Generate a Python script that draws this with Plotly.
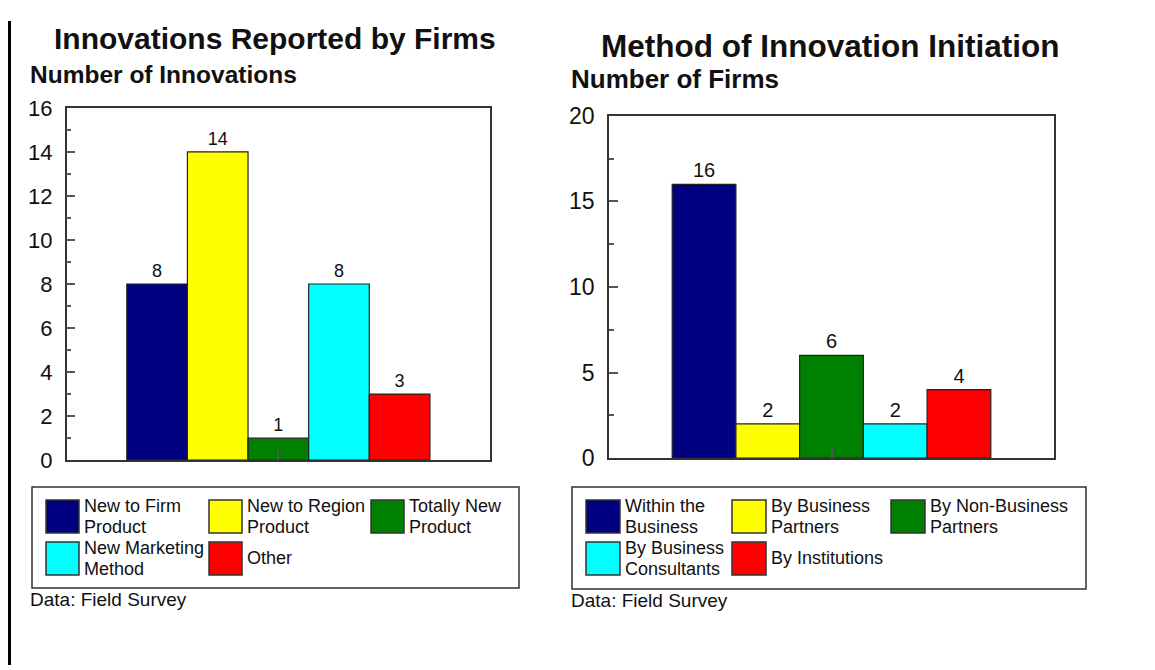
import plotly.graph_objects as go

# ---------------- data ----------------
left_title = "Innovations Reported by Firms"
left_ylabel = "Number of Innovations"
left_categories = ["New to Firm Product", "New to Region Product", "Totally New Product",
                   "New Marketing Method", "Other"]
left_legend_lines = [["New to Firm", "Product"], ["New to Region", "Product"],
                     ["Totally New", "Product"], ["New Marketing", "Method"], ["Other"]]
left_values = [8, 14, 1, 8, 3]
left_ticks = [0, 2, 4, 6, 8, 10, 12, 14, 16]

right_title = "Method of Innovation Initiation"
right_ylabel = "Number of Firms"
right_categories = ["Within the Business", "By Business Partners", "By Non-Business Partners",
                    "By Business Consultants", "By Institutions"]
right_legend_lines = [["Within the", "Business"], ["By Business", "Partners"],
                      ["By Non-Business", "Partners"], ["By Business", "Consultants"],
                      ["By Institutions"]]
right_values = [16, 2, 6, 2, 4]
right_ticks = [0, 5, 10, 15, 20]

source_note = "Data: Field Survey"
colors = ["#000080", "#FFFF00", "#008000", "#00FFFF", "#FF0000"]

# ---------------- layout helpers ----------------
W, H = 1155, 670
X_OFF, Y_OFF, Y_SCALE = 8, 20, 0.963
FONT = "Arial, Liberation Sans, sans-serif"


def px(x):
    return (x - X_OFF) / W


def py(y):
    return min(1.0, max(0.0, 1 - ((y - Y_OFF) / Y_SCALE) / H))


fig = go.Figure()

for i, (cat, val) in enumerate(zip(left_categories, left_values)):
    fig.add_trace(go.Bar(
        x=["A"], y=[val], name=cat, marker=dict(color=colors[i], line=dict(color="#222222", width=1.2)),
        text=[val], texttemplate="%{y}", textposition="outside", cliponaxis=False,
        textfont=dict(size=18, color="#111111", family=FONT),
        xaxis="x", yaxis="y", offsetgroup=str(i), showlegend=False))

for i, (cat, val) in enumerate(zip(right_categories, right_values)):
    fig.add_trace(go.Bar(
        x=["B"], y=[val], name=cat, marker=dict(color=colors[i], line=dict(color="#222222", width=1.2)),
        text=[val], texttemplate="%{y}", textposition="outside", cliponaxis=False,
        textfont=dict(size=20, color="#111111", family=FONT),
        xaxis="x2", yaxis="y2", offsetgroup=str(i), showlegend=False))

axis_common = dict(showline=True, mirror=True, linecolor="#333333", linewidth=1.5,
                   showgrid=False, zeroline=False, ticks="inside", tickcolor="#555555",
                   tickwidth=1.5, fixedrange=True)

fig.update_layout(
    width=W, height=H, margin=dict(l=0, r=0, t=0, b=0),
    paper_bgcolor="white", plot_bgcolor="white",
    barmode="group", bargap=0.284, bargroupgap=0,
    font=dict(family=FONT, color="#111111"),
    xaxis=dict(domain=[px(66.7), px(490)], anchor="y", ticklen=10, showticklabels=False, **axis_common),
    yaxis=dict(domain=[py(460), py(107)], anchor="x", range=[0, 16], tickvals=left_ticks,
               ticklen=9, tickfont=dict(size=22, family=FONT, color="#111111"), ticklabelstandoff=8,
               minor=dict(ticks="inside", ticklen=5, dtick=1, tick0=0, tickcolor="#555555", tickwidth=1.5),
               **axis_common),
    xaxis2=dict(domain=[px(609), px(1054)], anchor="y2", ticklen=10, showticklabels=False, **axis_common),
    yaxis2=dict(domain=[py(458), py(115)], anchor="x2", range=[0, 20], tickvals=right_ticks,
                ticklen=9, tickfont=dict(size=23, family=FONT, color="#111111"), ticklabelstandoff=8,
                minor=dict(ticks="inside", ticklen=5, dtick=2.5, tick0=0, tickcolor="#555555", tickwidth=1.5),
                **axis_common),
)

shapes = []
annotations = []

# outer left border
shapes.append(dict(type="line", xref="paper", yref="paper", x0=px(X_OFF + 1.5), x1=px(X_OFF + 1.5),
                   y0=0, y1=1, line=dict(color="black", width=3)))


def add_text(text, x, y, size, bold=False, xanchor="left"):
    annotations.append(dict(
        text=f"<b>{text}</b>" if bold else text, x=px(x), y=py(y), xref="paper", yref="paper",
        xanchor=xanchor, yanchor="middle", showarrow=False,
        font=dict(size=size, family=FONT, color="#111111")))


# titles
add_text(left_title, 52, 38, 30, bold=True)
add_text(left_ylabel, 28, 74, 24.5, bold=True)
add_text(right_title, 599, 45, 31.5, bold=True)
add_text(right_ylabel, 569, 78, 26, bold=True)


def build_legend(box, col_x, row_y, sw_w, sw_h, text_gap, lines_list, size, dy):
    x0, y0, x1, y1 = box
    shapes.append(dict(type="rect", xref="paper", yref="paper", x0=px(x0), x1=px(x1), y0=py(y1), y1=py(y0),
                       line=dict(color="#333333", width=1.5), fillcolor="white"))
    for k, lines in enumerate(lines_list):
        r, c = divmod(k, 3)
        sx, sy = col_x[c], row_y[r]
        shapes.append(dict(type="rect", xref="paper", yref="paper", x0=px(sx), x1=px(sx + sw_w),
                           y0=py(sy + sw_h), y1=py(sy), fillcolor=colors[k],
                           line=dict(color="#333333", width=1.5)))
        cy = sy + sw_h / 2
        if len(lines) == 1:
            add_text(lines[0], sx + sw_w + text_gap, cy, size)
        else:
            add_text(lines[0], sx + sw_w + text_gap, cy - dy, size)
            add_text(lines[1], sx + sw_w + text_gap, cy + dy, size)


build_legend((32, 487, 519, 588), [46, 209, 371], [500, 542], 33, 33, 3, left_legend_lines, 18, 10.2)
build_legend((572, 487, 1086, 589), [586, 732, 891], [500, 542], 34, 33, 3, right_legend_lines, 18, 10.2)

add_text(source_note, 28, 600, 19)
add_text(source_note, 569, 601, 19)

fig.update_layout(shapes=shapes, annotations=annotations)
fig.write_html("out.html")
